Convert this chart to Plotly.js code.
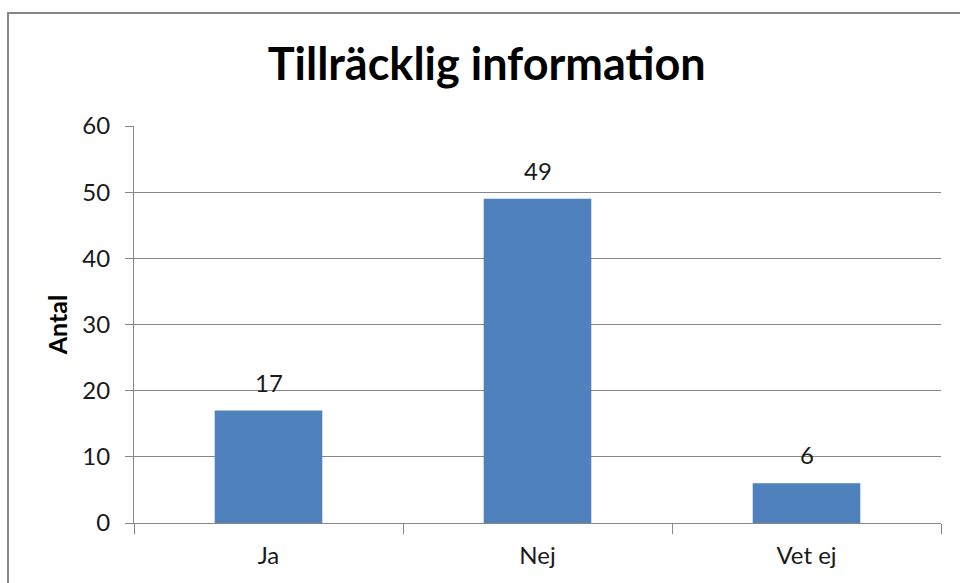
<!DOCTYPE html>
<html>
<head>
<meta charset="utf-8">
<script src="https://cdn.plot.ly/plotly-3.0.1.min.js"></script>
<style>
html,body{margin:0;padding:0;background:#fff;}
#chart{width:960px;height:583px;}
</style>
</head>
<body>
<div id="chart"></div>
<script>
const categories = ["Ja", "Nej", "Vet ej"];
const values = [17, 49, 6];
const yTicks = [0, 10, 20, 30, 40, 50, 60];

const FONT = "Lato, 'Open Sans', sans-serif";
const GRID = "#878787";
const TXT = "#1a1a1a";

const trace = {
  type: "bar",
  x: categories,
  y: values,
  width: 0.4,
  marker: {color: "#4F81BD", line: {width: 0}},
  hoverinfo: "none"
};

const annotations = categories.map((c, i) => ({
  x: c, y: values[i], xref: "x", yref: "y",
  text: String(values[i]), showarrow: false,
  yanchor: "bottom", yshift: 12,
  font: {family: FONT, size: 24, color: TXT}
}));

const layout = {
  width: 960, height: 583,
  margin: {l: 134, r: 19, t: 126, b: 60},
  paper_bgcolor: "#fff", plot_bgcolor: "#fff",
  showlegend: false,
  title: {
    text: "<b>Tillräcklig information</b>",
    font: {family: FONT, size: 45, color: "#000"},
    x: 0.507, xanchor: "center", xref: "container",
    y: 1 - 64/583, yanchor: "middle", yref: "container"
  },
  xaxis: {
    type: "category",
    showline: true, linecolor: GRID, linewidth: 1,
    ticks: "outside", tickson: "boundaries", ticklen: 10, tickcolor: GRID,
    showgrid: false, zeroline: false,
    tickfont: {family: FONT, size: 24, color: TXT},
    ticklabelstandoff: 11
  },
  yaxis: {
    range: [0, 60],
    tickvals: yTicks,
    showline: true, linecolor: GRID, linewidth: 1,
    ticks: "outside", ticklen: 8, tickcolor: GRID,
    showgrid: true, gridcolor: GRID, gridwidth: 1,
    zeroline: false,
    tickfont: {family: FONT, size: 24, color: TXT},
    ticklabelstandoff: 10,
    title: {text: "<b>Antal</b>", font: {family: FONT, size: 25, color: "#000"}, standoff: 7}
  },
  annotations: annotations,
  shapes: [{
    type: "rect", xref: "paper", yref: "paper",
    x0: (8 - 134) / 807, x1: 1.2,
    y0: -0.3, y1: (523 - 13) / 397,
    line: {color: "#868686", width: 2}, fillcolor: "rgba(0,0,0,0)", layer: "below"
  }]
};

Plotly.newPlot("chart", [trace], layout, {displayModeBar: false, staticPlot: true});
</script>
</body>
</html>
